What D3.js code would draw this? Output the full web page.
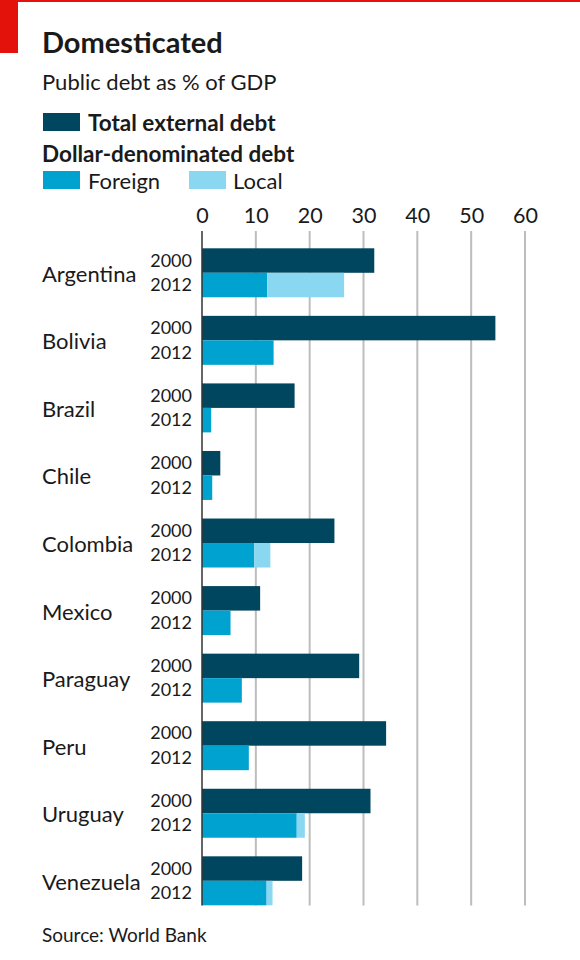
<!DOCTYPE html>
<html>
<head>
<meta charset="utf-8">
<script src="https://cdn.jsdelivr.net/npm/d3@7"></script>
<style>
  html, body { margin: 0; padding: 0; background: #fff; }
  svg { display: block; font-family: Lato, "Noto Sans", sans-serif; }
</style>
</head>
<body>
<svg id="chart" width="580" height="960"></svg>
<script>
const countries = ["Argentina", "Bolivia", "Brazil", "Chile", "Colombia", "Mexico", "Paraguay", "Peru", "Uruguay", "Venezuela"];
const years = ["2000", "2012"];
const totalExternal2000 = [32.0, 54.5, 17.2, 3.4, 24.6, 10.8, 29.2, 34.2, 31.3, 18.6];
const foreign2012 = [12.1, 13.3, 1.7, 1.9, 9.7, 5.3, 7.4, 8.7, 17.6, 12.0];
const local2012 = [14.3, 0, 0, 0, 3.0, 0, 0, 0, 1.5, 1.1];
const xTicks = [0, 10, 20, 30, 40, 50, 60];

const colors = { total: "#00465e", foreign: "#00a2d0", local: "#8ad7f2", grid: "#bdbdbd", axis: "#333" };

const svg = d3.select("#chart");

// Header
svg.append("rect").attr("x", 0).attr("y", 0).attr("width", 580).attr("height", 2).attr("fill", "#e3120b");
svg.append("rect").attr("x", 0).attr("y", 0).attr("width", 18).attr("height", 53).attr("fill", "#e3120b");

svg.append("text").attr("x", 42).attr("y", 53).attr("font-size", 29).attr("font-weight", 700)
  .attr("fill", "#1a1a1a").text("Domesticated");
svg.append("text").attr("x", 42).attr("y", 90).attr("font-size", 22)
  .attr("fill", "#1a1a1a").text("Public debt as % of GDP");

// Legend
const lg = svg.append("g");
lg.append("rect").attr("x", 43).attr("y", 113).attr("width", 37).attr("height", 18).attr("fill", colors.total);
lg.append("text").attr("x", 88).attr("y", 131).attr("font-size", 22.5).attr("font-weight", 700).attr("fill", "#1a1a1a").text("Total external debt");
lg.append("text").attr("x", 42).attr("y", 162).attr("font-size", 22.5).attr("font-weight", 700).attr("fill", "#1a1a1a").text("Dollar-denominated debt");
lg.append("rect").attr("x", 43).attr("y", 171).attr("width", 37).attr("height", 18).attr("fill", colors.foreign);
lg.append("text").attr("x", 88).attr("y", 189).attr("font-size", 22).attr("fill", "#1a1a1a").text("Foreign");
lg.append("rect").attr("x", 189).attr("y", 171).attr("width", 37).attr("height", 18).attr("fill", colors.local);
lg.append("text").attr("x", 233).attr("y", 189).attr("font-size", 22).attr("fill", "#1a1a1a").text("Local");

// Scales
const x = d3.scaleLinear().domain([0, 60]).range([202, 525]);
const y = d3.scaleBand().domain(countries).range([248.3, 905.3]).paddingInner(0.275).paddingOuter(0);
const yy = d3.scaleBand().domain(years).range([0, y.bandwidth()]).padding(0);

const gridTop = 231, gridBottom = 905.5;

// Gridlines
svg.append("g").selectAll("line").data(xTicks.filter(d => d !== 0)).join("line")
  .attr("x1", d => x(d)).attr("x2", d => x(d))
  .attr("y1", gridTop).attr("y2", gridBottom)
  .attr("stroke", colors.grid).attr("stroke-width", 2);

// Axis labels (top)
const axis = d3.axisTop(x).tickValues(xTicks).tickSize(0).tickPadding(0).tickFormat(d3.format("d"));
const ax = svg.append("g").attr("transform", "translate(0,223)").call(axis);
ax.select(".domain").remove();
ax.selectAll("text").attr("font-size", 21.5).attr("fill", "#1a1a1a").attr("font-family", "Lato, sans-serif").attr("dy", 0);

// Bars
const groups = svg.append("g").selectAll("g").data(countries).join("g")
  .attr("transform", d => `translate(0,${y(d)})`);

groups.append("rect")
  .attr("x", x(0)).attr("y", yy("2000"))
  .attr("width", (d, i) => x(totalExternal2000[i]) - x(0))
  .attr("height", yy.bandwidth()).attr("fill", colors.total);

groups.append("rect")
  .attr("x", x(0)).attr("y", yy("2012"))
  .attr("width", (d, i) => x(foreign2012[i]) - x(0))
  .attr("height", yy.bandwidth()).attr("fill", colors.foreign);

groups.append("rect")
  .attr("x", (d, i) => x(foreign2012[i])).attr("y", yy("2012"))
  .attr("width", (d, i) => x(foreign2012[i] + local2012[i]) - x(foreign2012[i]))
  .attr("height", yy.bandwidth()).attr("fill", colors.local);

// Country labels
groups.append("text").attr("x", 42).attr("y", y.bandwidth() / 2 + 9)
  .attr("font-size", 22).attr("fill", "#1a1a1a").text(d => d);

// Year labels
groups.selectAll("text.yr").data(years).join("text").attr("class", "yr")
  .attr("x", 192).attr("y", d => yy(d) + yy.bandwidth() / 2 + 6)
  .attr("text-anchor", "end").attr("font-size", 18).attr("fill", "#1a1a1a").text(d => d);

// Zero axis line
svg.append("line").attr("x1", x(0)).attr("x2", x(0)).attr("y1", gridTop).attr("y2", gridBottom)
  .attr("stroke", colors.axis).attr("stroke-width", 1.5);

// Source
svg.append("text").attr("x", 42).attr("y", 942).attr("font-size", 19).attr("fill", "#1a1a1a").text("Source: World Bank");
</script>
</body>
</html>
